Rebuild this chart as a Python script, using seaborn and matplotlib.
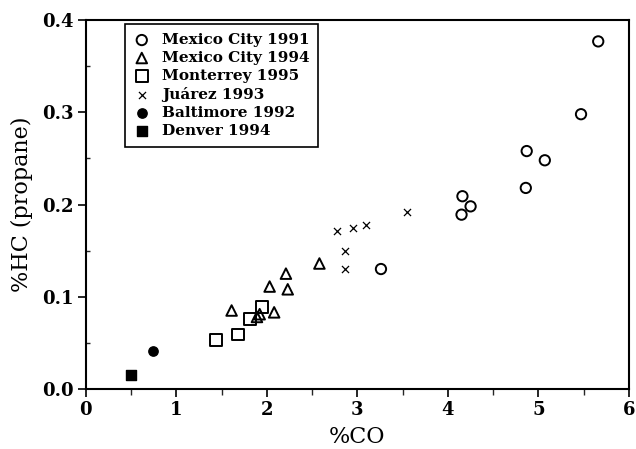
import matplotlib
matplotlib.use("Agg")
import matplotlib.pyplot as plt
import seaborn as sns
import pandas as pd
from matplotlib.ticker import MultipleLocator

# ---- data ----
mc91_co = [5.66, 5.47, 4.87, 5.07, 4.86, 4.16, 4.25, 4.15, 3.26]
mc91_hc = [0.377, 0.298, 0.258, 0.248, 0.218, 0.209, 0.198, 0.189, 0.130]

mc94_co = [2.58, 2.21, 2.03, 2.23, 1.61, 2.08, 1.89, 1.92]
mc94_hc = [0.136, 0.125, 0.111, 0.108, 0.085, 0.083, 0.078, 0.081]

mty95_co = [1.95, 1.81, 1.68, 1.44]
mty95_hc = [0.089, 0.076, 0.059, 0.053]

jua93_co = [3.55, 2.77, 2.95, 3.10, 2.86, 2.86]
jua93_hc = [0.192, 0.171, 0.175, 0.178, 0.150, 0.130]

bal92_co = [0.74]
bal92_hc = [0.0415]

den94_co = [0.50]
den94_hc = [0.0145]

series_names = ["Mexico City 1991", "Mexico City 1994", "Monterrey 1995",
                "Juárez 1993", "Baltimore 1992", "Denver 1994"]
x_ticks = [0, 1, 2, 3, 4, 5, 6]
y_ticks = [0.0, 0.1, 0.2, 0.3, 0.4]
x_label = "%CO"
y_label = "%HC (propane)"

sns.set_theme(style="white")
plt.rcParams["font.family"] = ["DejaVu Serif"]
plt.rcParams["text.color"] = "black"

fig = plt.figure(figsize=(6.36, 4.49), dpi=100)
ax = fig.add_axes([0.135, 0.134, 0.854, 0.821])

series = [
    (mc91_co, mc91_hc, "o", "none", 55, 1.4),
    (mc94_co, mc94_hc, "^", "none", 58, 1.4),
    (mty95_co, mty95_hc, "s", "none", 72, 1.4),
    (jua93_co, jua93_hc, "x", "black", 26, 0.9),
    (bal92_co, bal92_hc, "o", "black", 45, 1.0),
    (den94_co, den94_hc, "s", "black", 42, 1.0),
]

for name, (xs, ys, m, fc, s, lw) in zip(series_names, series):
    df = pd.DataFrame({"co": xs, "hc": ys})
    if m == "x":
        sns.scatterplot(data=df, x="co", y="hc", marker=m, color="black",
                        s=s, linewidth=lw, ax=ax, label=name)
    else:
        sns.scatterplot(data=df, x="co", y="hc", marker=m, facecolor=fc,
                        edgecolor="black", s=s, linewidth=lw, ax=ax, label=name)

ax.set_xlim(0, 6)
ax.set_ylim(0, 0.4)
ax.set_xticks(x_ticks)
ax.set_yticks(y_ticks)
ax.set_xticklabels([str(t) for t in x_ticks])
ax.set_yticklabels([f"{t:.1f}" for t in y_ticks])
ax.xaxis.set_minor_locator(MultipleLocator(0.5))
ax.yaxis.set_minor_locator(MultipleLocator(0.05))
ax.tick_params(axis="both", which="major", direction="out", length=6, width=1.2,
               labelsize=13, colors="black", pad=3)
ax.tick_params(axis="x", which="minor", direction="out", length=4, width=1.0, bottom=True)
ax.tick_params(axis="y", which="minor", direction="in", length=3, width=1.0, left=True)
ax.tick_params(bottom=True, left=True)
for lab in ax.get_xticklabels() + ax.get_yticklabels():
    lab.set_fontweight("bold")

for sp in ax.spines.values():
    sp.set_color("black")
    sp.set_linewidth(1.5)

ax.set_xlabel(x_label, fontsize=16, color="black", labelpad=5)
ax.set_ylabel(y_label, fontsize=16, color="black", labelpad=6)

leg = ax.legend(loc="upper left", bbox_to_anchor=(0.072, 0.99), frameon=True,
                fancybox=False, edgecolor="black", framealpha=1,
                prop={"weight": "bold", "size": 11}, handletextpad=0.8,
                borderpad=0.6, labelspacing=0.26, handlelength=1.0,
                borderaxespad=0)
leg.get_frame().set_linewidth(1.2)
for t in leg.get_texts():
    t.set_color("black")

fig.savefig("out.png", dpi=100)
